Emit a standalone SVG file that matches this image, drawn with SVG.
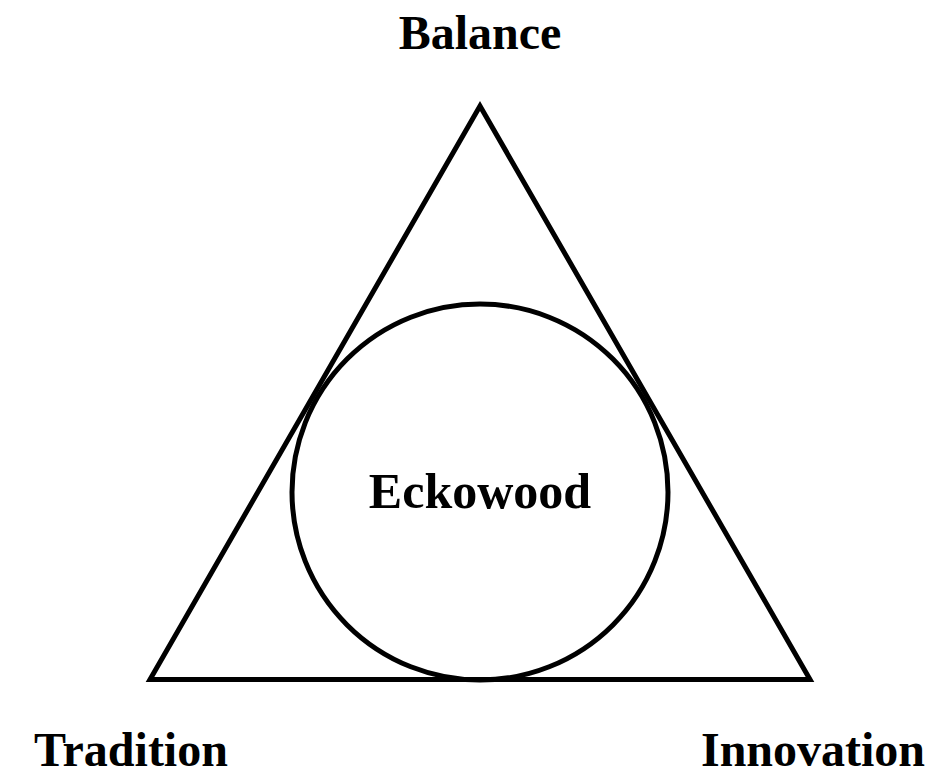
<svg xmlns="http://www.w3.org/2000/svg" width="950" height="771" viewBox="0 0 950 771">
<style>
.lbl{font-family:"Liberation Serif","Times New Roman",serif;font-weight:bold;font-size:48px;fill:#000;text-anchor:middle}
.shape{fill:none;stroke:#000;stroke-width:5}
</style>
<rect width="950" height="771" fill="#fff"/>
<g id="triangle"><polygon class="shape" points="480,106 150,679.5 810,679.5" stroke-linejoin="miter"/></g>
<g id="circle"><circle class="shape" cx="480" cy="492" r="188"/></g>
<g id="balance"><text class="lbl" x="480" y="49">Balance</text></g>
<g id="eckowood"><text class="lbl" x="480" y="508" style="font-size:50px">Eckowood</text></g>
<g id="tradition"><text class="lbl" x="131" y="766">Tradition</text></g>
<g id="innovation"><text class="lbl" x="813" y="766">Innovation</text></g>
<g id="connectors"></g>
</svg>
